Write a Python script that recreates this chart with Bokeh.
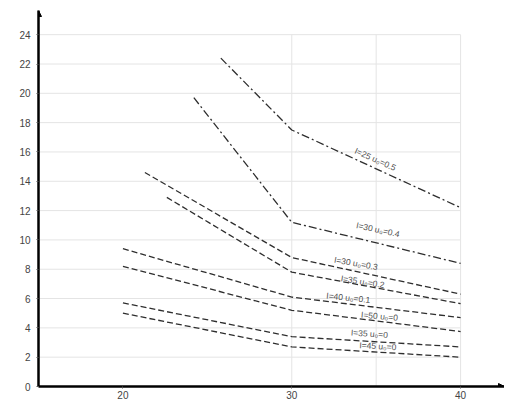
from bokeh.plotting import figure
from bokeh.models import Range1d, FixedTicker, Label, Arrow, NormalHead
from bokeh.embed import file_html
from bokeh.resources import INLINE
import math

# curve data: voltage V vs L
v_A = [25.8, 30, 40]; L_A = [22.4, 17.5, 12.2]
v_B = [24.2, 30, 40]; L_B = [19.7, 11.2, 8.4]
v_C = [21.3, 30, 40]; L_C = [14.6, 8.8, 6.3]
v_D = [22.6, 30, 40]; L_D = [12.9, 7.8, 5.65]
v_E = [20, 30, 40]; L_E = [9.4, 6.1, 4.7]
v_F = [20, 30, 40]; L_F = [8.2, 5.2, 3.75]
v_G = [20, 30, 40]; L_G = [5.7, 3.4, 2.7]
v_H = [20, 30, 40]; L_H = [5.0, 2.7, 2.0]

labels = ["I=25 u₀=0.5", "I=30 u₀=0.4", "I=30 u₀=0.3", "I=35 u₀=0.2",
          "I=40 u₀=0.1", "I=50 u₀=0", "I=35 u₀=0", "I=45 u₀=0"]
label_v = [34.95, 35.1, 33.8, 34.2, 33.35, 35.2, 34.6, 35.1]
label_L = [15.5, 10.7, 8.4, 7.15, 6.05, 4.8, 3.6, 2.75]
label_angle_deg = [-24, -12, -10, -9, -6, -5, -4, -3]

x_ticks = [20, 30, 40]
y_ticks = list(range(0, 26, 2))
x_grid = [30, 35, 40]
y_grid = list(range(2, 26, 2))

p = figure(width=504, height=401, output_backend="svg", toolbar_location=None,
           x_range=Range1d(15, 42.6), y_range=Range1d(0, 25.65),
           min_border_left=38, min_border_right=0, min_border_top=10, min_border_bottom=14)
p.outline_line_color = None
p.xgrid.visible = False
p.ygrid.visible = False
p.background_fill_color = "white"

# grid confined to the drawing area
p.segment(x0=[15] * len(y_grid), y0=y_grid, x1=[40] * len(y_grid), y1=y_grid,
          line_color="#e4e4e4", line_width=1)
p.segment(x0=x_grid, y0=[0] * len(x_grid), x1=x_grid, y1=[24] * len(x_grid),
          line_color="#e4e4e4", line_width=1)

curves = [(v_A, L_A, "8 3 2 3"), (v_B, L_B, "8 3 2 3"), (v_C, L_C, "6 3"), (v_D, L_D, "6 3"),
          (v_E, L_E, "6 3"), (v_F, L_F, "6 3"), (v_G, L_G, "6 3"), (v_H, L_H, "6 3")]
for xs, ys, dash in curves:
    p.line(xs, ys, line_color="#2e2e2e", line_width=1.3, line_dash=dash)

p.text(x=label_v, y=label_L, text=labels, angle=[math.radians(a) for a in label_angle_deg],
       text_font_size="8.5px", text_color="#505050", text_align="center",
       text_baseline="middle")

for ax in (p.xaxis[0], p.yaxis[0]):
    ax.axis_line_width = 2.5
    ax.axis_line_color = "black"
    ax.major_tick_line_color = "#555555"
    ax.major_tick_in = 0
    ax.major_tick_out = 2
    ax.minor_tick_line_color = None
    ax.major_label_text_font_size = "10px"
    ax.major_label_text_color = "#444444"
p.xaxis.major_label_standoff = 2
p.yaxis.major_label_standoff = 6

p.xaxis.ticker = FixedTicker(ticks=x_ticks)
p.yaxis.ticker = FixedTicker(ticks=y_ticks)

p.add_layout(Arrow(end=NormalHead(size=6, fill_color="black", line_color="black"),
                   x_start=15, y_start=25.0, x_end=15, y_end=25.65, line_width=0))
p.add_layout(Arrow(end=NormalHead(size=6, fill_color="black", line_color="black"),
                   x_start=42.0, y_start=0, x_end=42.6, y_end=0, line_width=0))

p.add_layout(Label(x=13.6, y=25.2, text="L", text_font_size="10px", text_font_style="bold",
                   text_color="#333333", text_baseline="middle"))
p.add_layout(Label(x=14.3, y=25.2, text="µ", text_font_size="7px",
                   text_color="#888888", text_baseline="middle"))
p.add_layout(Label(x=41.5, y=-0.5, text="V", text_font_size="10px",
                   text_color="#444444", text_baseline="middle"))

open("out.html", "w").write(file_html(p, INLINE))
